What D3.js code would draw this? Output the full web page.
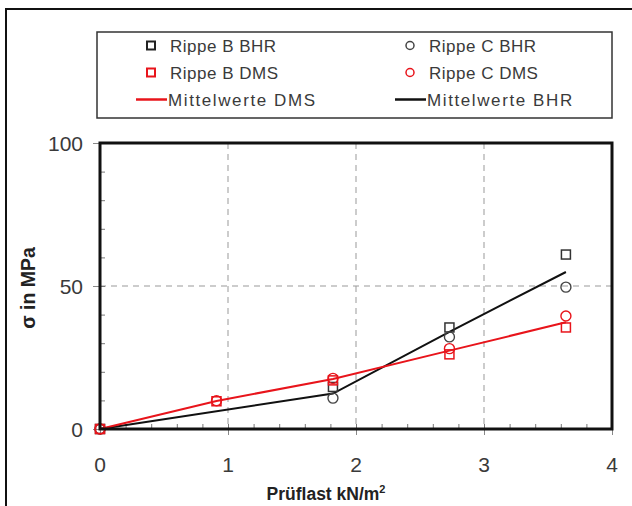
<!DOCTYPE html>
<html>
<head>
<meta charset="utf-8">
<script src="https://cdn.jsdelivr.net/npm/d3@7"></script>
<style>
  html, body { margin: 0; padding: 0; background: #fff; }
  svg { display: block; }
  text { font-family: "Liberation Sans", "DejaVu Sans", sans-serif; }
</style>
</head>
<body>
<svg id="chart" width="632" height="506"></svg>
<script>
// Load steps (kN/m²) and measured stresses (MPa)
const loadsAll = [0, 0.91, 1.82, 2.73, 3.64];
const loadsBHR = [0, 1.82, 2.73, 3.64];

const rippeB_BHR = [0, 14.7, 35.5, 61.0];
const rippeC_BHR = [0, 10.8, 32.2, 49.6];
const mittelBHR  = [0, 12.4, 34.0, 54.9];

const rippeB_DMS = [0, 9.7, 17.0, 26.1, 35.5];
const rippeC_DMS = [0, 9.9, 17.7, 28.1, 39.5];
const mittelDMS  = [0, 9.8, 17.5, 27.4, 37.3];

const xTicks = [0, 1, 2, 3, 4];
const yTicks = [0, 50, 100];

const RED = "#e8141b";
const BLACK = "#111";
const TEXT = "#3a3a3a";

const svg = d3.select("#chart");

// outer frame (runs past the right and bottom edges)
svg.append("rect")
  .attr("x", 6).attr("y", 9)
  .attr("width", 700).attr("height", 600)
  .attr("fill", "none").attr("stroke", "#111").attr("stroke-width", 2);

const L = 100, R = 612, T = 143, B = 429;
const x = d3.scaleLinear().domain([0, 4]).range([L, R]);
const y = d3.scaleLinear().domain([0, 100]).range([B, T]);

// dashed grid
const grid = svg.append("g").attr("stroke", "#999").attr("stroke-width", 1)
  .attr("stroke-dasharray", "6,5");
[1, 2, 3].forEach(v => grid.append("line")
  .attr("x1", x(v)).attr("x2", x(v)).attr("y1", T).attr("y2", B));
grid.append("line").attr("x1", L).attr("x2", R).attr("y1", y(50)).attr("y2", y(50));

// bottom axis: outward major ticks, inward minor ticks
const xAxisMajor = d3.axisBottom(x).tickValues(xTicks).tickSize(6).tickFormat("");
svg.append("g").attr("transform", `translate(0,${B})`).call(xAxisMajor)
  .call(g => g.select(".domain").remove())
  .call(g => g.selectAll(".tick line").attr("stroke", "#888").attr("stroke-width", 1));
const xAxisMinor = d3.axisTop(x).tickValues(d3.range(0.2, 4, 0.2)).tickSize(5).tickFormat("");
svg.append("g").attr("transform", `translate(0,${B})`).call(xAxisMinor)
  .call(g => g.select(".domain").remove())
  .call(g => g.selectAll(".tick line").attr("stroke", "#777").attr("stroke-width", 1));

// left axis: outward major ticks, inward minor ticks
const yAxisMajor = d3.axisLeft(y).tickValues(yTicks).tickSize(7).tickFormat("");
svg.append("g").attr("transform", `translate(${L},0)`).call(yAxisMajor)
  .call(g => g.select(".domain").remove())
  .call(g => g.selectAll(".tick line").attr("stroke", "#888").attr("stroke-width", 1));
const yAxisMinor = d3.axisRight(y).tickValues(d3.range(10, 100, 10)).tickSize(5).tickFormat("");
svg.append("g").attr("transform", `translate(${L},0)`).call(yAxisMinor)
  .call(g => g.select(".domain").remove())
  .call(g => g.selectAll(".tick line").attr("stroke", "#777").attr("stroke-width", 1));

// tick labels
svg.append("g").selectAll("text").data(xTicks).join("text")
  .attr("x", d => x(d)).attr("y", 472)
  .attr("text-anchor", "middle").attr("font-size", 21).attr("fill", TEXT)
  .text(d => d);
svg.append("g").selectAll("text").data(yTicks).join("text")
  .attr("x", 83).attr("y", d => y(d) + 8)
  .attr("text-anchor", "end").attr("font-size", 21).attr("fill", TEXT)
  .text(d => d);

// axis titles
const xt = svg.append("text").attr("x", 326).attr("y", 500)
  .attr("text-anchor", "middle").attr("font-size", 17.5).attr("font-weight", "bold")
  .attr("fill", "#222");
xt.append("tspan").text("Prüflast kN/m");
xt.append("tspan").attr("dy", -7).attr("font-size", 11).text("2");

svg.append("text")
  .attr("transform", "translate(35,288) rotate(-90)")
  .attr("text-anchor", "middle").attr("font-size", 19.5).attr("font-weight", "bold")
  .attr("fill", "#222").text("σ in MPa");

// mean lines
const lineGen = d3.line().x(d => x(d[0])).y(d => y(d[1]));
svg.append("path").datum(d3.zip(loadsBHR, mittelBHR)).attr("d", lineGen)
  .attr("fill", "none").attr("stroke", BLACK).attr("stroke-width", 2);
svg.append("path").datum(d3.zip(loadsAll, mittelDMS)).attr("d", lineGen)
  .attr("fill", "none").attr("stroke", RED).attr("stroke-width", 2);

// markers
function squares(xs, ys, color) {
  svg.append("g").selectAll("rect").data(d3.zip(xs, ys)).join("rect")
    .attr("x", d => x(d[0]) - 4.5).attr("y", d => y(d[1]) - 4.5)
    .attr("width", 9).attr("height", 9)
    .attr("fill", "none").attr("stroke", color).attr("stroke-width", 1.5);
}
function circles(xs, ys, color) {
  svg.append("g").selectAll("circle").data(d3.zip(xs, ys)).join("circle")
    .attr("cx", d => x(d[0])).attr("cy", d => y(d[1])).attr("r", 5)
    .attr("fill", "none").attr("stroke", color).attr("stroke-width", 1.4);
}
squares(loadsBHR, rippeB_BHR, "#333");
circles(loadsBHR, rippeC_BHR, "#444");
squares(loadsAll, rippeB_DMS, RED);
circles(loadsAll, rippeC_DMS, RED);

// plot frame
svg.append("rect").attr("x", L).attr("y", T).attr("width", R - L).attr("height", B - T)
  .attr("fill", "none").attr("stroke", "#111").attr("stroke-width", 3);

// legend
const lg = svg.append("g");
lg.append("rect").attr("x", 97).attr("y", 32).attr("width", 515).attr("height", 86)
  .attr("fill", "#fff").attr("stroke", "#333").attr("stroke-width", 1.5);
const items = [
  { label: "Rippe B BHR", type: "square", color: "#222", col: 0, row: 0 },
  { label: "Rippe C BHR", type: "circle", color: "#444", col: 1, row: 0 },
  { label: "Rippe B DMS", type: "square", color: RED, col: 0, row: 1 },
  { label: "Rippe C DMS", type: "circle", color: RED, col: 1, row: 1 },
  { label: "Mittelwerte DMS", type: "line", color: RED, col: 0, row: 2 },
  { label: "Mittelwerte BHR", type: "line", color: BLACK, col: 1, row: 2 }
];
const colX = [151, 410], rowY = [45.5, 72.5, 99.5];
items.forEach(it => {
  const cx = colX[it.col], cy = rowY[it.row];
  if (it.type === "square") {
    lg.append("rect").attr("x", cx - 4).attr("y", cy - 4).attr("width", 8).attr("height", 8)
      .attr("fill", "none").attr("stroke", it.color).attr("stroke-width", 2);
  } else if (it.type === "circle") {
    lg.append("circle").attr("cx", cx).attr("cy", cy).attr("r", 4)
      .attr("fill", "none").attr("stroke", it.color).attr("stroke-width", 1.5);
  } else {
    lg.append("line").attr("x1", cx - 15).attr("x2", cx + 16).attr("y1", cy).attr("y2", cy)
      .attr("stroke", it.color).attr("stroke-width", 2.5);
  }
  lg.append("text").attr("x", it.type === "line" ? cx + 17 : cx + 19).attr("y", cy + 6)
    .attr("font-size", 17).attr("fill", TEXT)
    .attr("letter-spacing", it.type === "line" ? 1.6 : 0.5)
    .text(it.label);
});
</script>
</body>
</html>
